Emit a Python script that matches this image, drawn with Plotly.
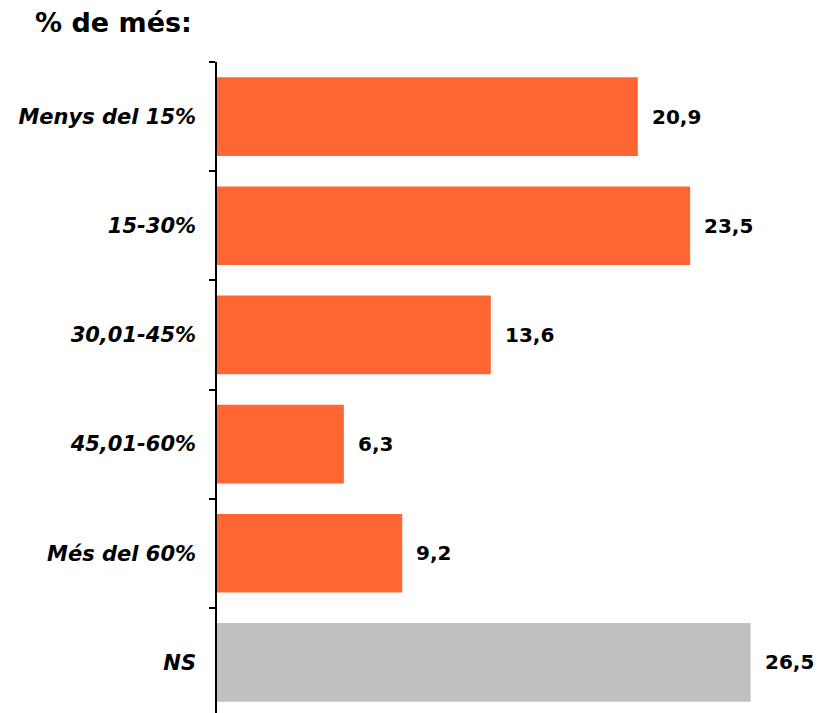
import plotly.graph_objects as go

categories = ["Menys del 15%", "15-30%", "30,01-45%", "45,01-60%", "Més del 60%", "NS"]
values = [20.9, 23.5, 13.6, 6.3, 9.2, 26.5]
value_labels = ["20,9", "23,5", "13,6", "6,3", "9,2", "26,5"]
colors = ["#FF6633"] * 5 + ["#C0C0C0"]

FONT = "DejaVu Sans, Arial"

fig = go.Figure()
fig.add_trace(go.Bar(
    x=values, y=categories, orientation="h",
    marker=dict(color=colors, line=dict(width=0)),
    width=0.72, hoverinfo="skip",
))

for v, c, t in zip(values, categories, value_labels):
    fig.add_annotation(x=v, y=c, text=f"<b>{t}</b>", showarrow=False,
                       xanchor="left", xshift=12,
                       font=dict(family=FONT, size=20, color="black"))

fig.update_layout(
    width=828, height=713,
    margin=dict(l=209, r=19, t=54, b=4, autoexpand=False),
    paper_bgcolor="white", plot_bgcolor="white",
    showlegend=False,
    font=dict(family=FONT, color="black"),
    title=dict(text="<b>% de més:</b>", x=27/828, xanchor="left",
               xref="container", y=1 - 15/713, yref="container", yanchor="middle",
               font=dict(size=27, color="black", family=FONT)),
)

fig.update_xaxes(range=[0, 29.8], visible=False, showgrid=False, zeroline=False)
fig.update_yaxes(
    type="category", autorange="reversed", categoryorder="array", categoryarray=categories,
    showline=True, linecolor="black", linewidth=1.5,
    ticks="outside", tickson="boundaries", ticklen=6, tickcolor="black", tickwidth=1.5,
    tickfont=dict(family=FONT, size=21, color="black"),
    ticklabelstandoff=15, showgrid=False, automargin=False,
    tickvals=categories, ticktext=[f"<b><i>{c}</i></b>" for c in categories],
)

fig.write_html("out.html")
